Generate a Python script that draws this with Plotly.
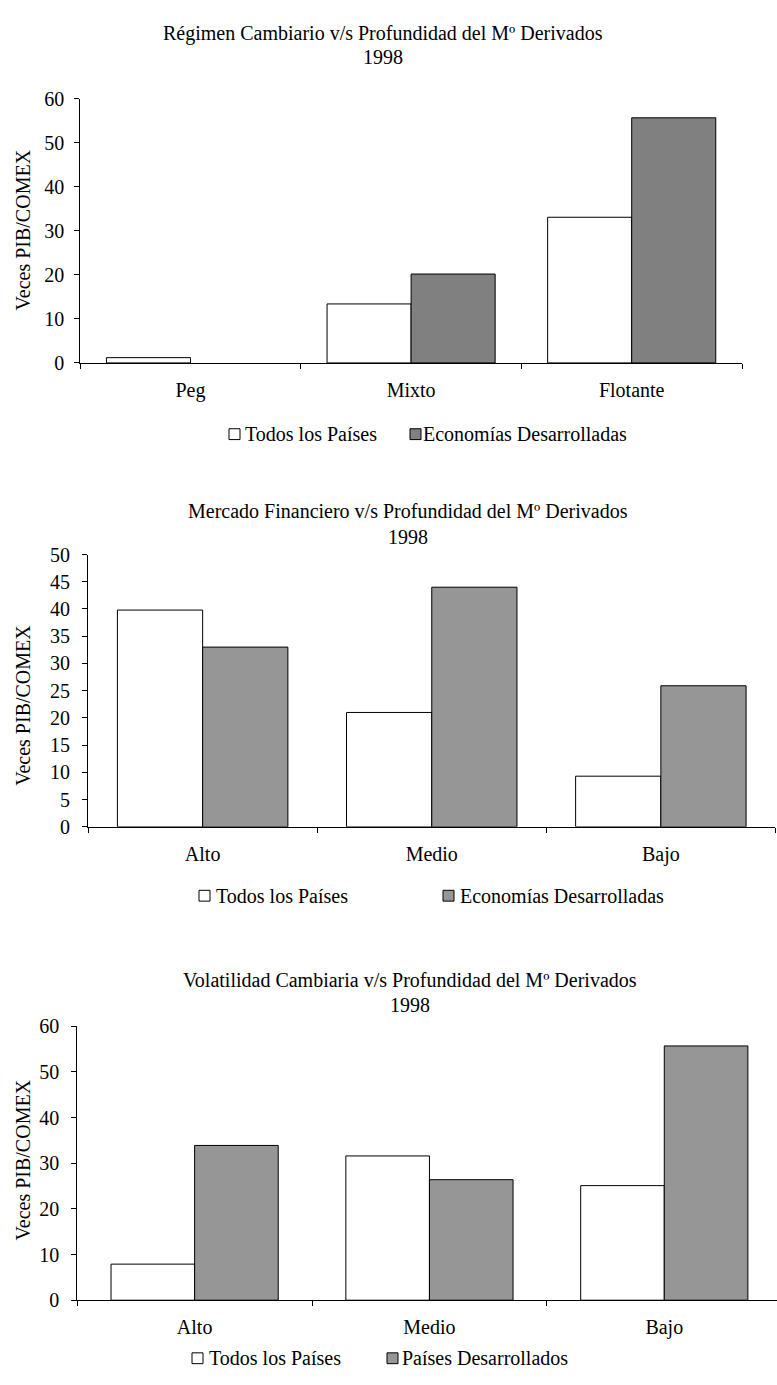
import plotly.graph_objects as go

W, H = 777, 1385
FONT = "Liberation Serif, Times New Roman, serif"

# ---------------- data ----------------
cats1 = ["Peg", "Mixto", "Flotante"]
todos1 = [1.2, 13.4, 33.1]
desarr1 = [None, 20.2, 55.7]

cats2 = ["Alto", "Medio", "Bajo"]
todos2 = [39.8, 21.0, 9.3]
desarr2 = [33.0, 44.0, 25.9]

cats3 = ["Alto", "Medio", "Bajo"]
todos3 = [7.9, 31.6, 25.1]
desarr3 = [33.9, 26.4, 55.7]

titles = [
    "Régimen Cambiario v/s Profundidad del Mº Derivados",
    "Mercado Financiero v/s Profundidad del Mº Derivados",
    "Volatilidad Cambiaria v/s Profundidad del Mº Derivados",
]
year = "1998"
ytitle = "Veces PIB/COMEX"
legend_names = [
    ("Todos los Países", "Economías Desarrolladas"),
    ("Todos los Países", "Economías Desarrolladas"),
    ("Todos los Países", "Países Desarrollados"),
]
# ---------------------------------------


def px_x(v):
    return v / W


def px_y(v):
    return 1 - v / H


GRAY1 = "#808080"
GRAY2 = "#969696"

# panel geometry in pixels: (left, right, top, bottom)
panels = [
    dict(l=80.2, r=742.0, t=89.3, b=357.6, yr=[0, 60], dt=10, xr=[-0.5, 2.5], bw=0.381,
         gray=GRAY1, tx=383, ty=(22.7, 46.7), yt=223, lg=430, ys=6,
         leg=((229, 245), (410, 423))),
    dict(l=88.1, r=775.4, t=552.3, b=829.0, yr=[0, 50], dt=5, xr=[-0.5, 2.5], bw=0.372,
         gray=GRAY2, tx=408, ty=(508.3, 534.0), yt=706, lg=899, ys=8,
         leg=((199, 216), (443, 460))),
    dict(l=77.2, r=777.0, t=1031.7, b=1310.0, yr=[0, 60], dt=10, xr=[-0.5, 2.48], bw=0.356,
         gray=GRAY2, tx=410, ty=(985.0, 1010.0), yt=1168, lg=1369, ys=8,
         leg=((192, 209), (387, 402))),
]
datasets = [(cats1, todos1, desarr1), (cats2, todos2, desarr2), (cats3, todos3, desarr3)]

fig = go.Figure()
layout = dict(
    width=W, height=H, margin=dict(l=0, r=0, t=0, b=0),
    paper_bgcolor="white", plot_bgcolor="white",
    showlegend=False, barmode="overlay",
    font=dict(family=FONT, size=20, color="black"),
)
annotations = []
shapes = []

for i, (p, (cats, a, b)) in enumerate(zip(panels, datasets)):
    n = "" if i == 0 else str(i + 1)
    xa, ya = "x" + n, "y" + n
    w = p["bw"]
    fig.add_trace(go.Bar(x=cats, y=a, xaxis=xa, yaxis=ya, width=w, offset=-w,
                         marker=dict(color="white", line=dict(color="black", width=1)),
                         name=legend_names[i][0]))
    fig.add_trace(go.Bar(x=cats, y=b, xaxis=xa, yaxis=ya, width=w, offset=0,
                         marker=dict(color=p["gray"], line=dict(color="black", width=1)),
                         name=legend_names[i][1]))
    layout["xaxis" + n] = dict(
        domain=[px_x(p["l"]), px_x(p["r"])], anchor=ya, type="category",
        range=p["xr"], tickson="boundaries", ticks="outside", ticklen=5,
        tickcolor="black", showline=True, linecolor="black", linewidth=1,
        showgrid=False, zeroline=False, ticklabelstandoff=9,
        tickfont=dict(family=FONT, size=20),
    )
    layout["yaxis" + n] = dict(
        domain=[px_y(p["b"]), px_y(p["t"])], anchor=xa, range=p["yr"], dtick=p["dt"],
        ticks="outside", ticklen=5, tickcolor="black", showline=True,
        linecolor="black", linewidth=1, showgrid=False, zeroline=False,
        ticklabelstandoff=p["ys"],
        tickfont=dict(family=FONT, size=20),
    )
    # titles
    annotations.append(dict(text=titles[i], x=px_x(p["tx"]), y=px_y(p["ty"][0]),
                            xref="paper", yref="paper", xanchor="center", yanchor="middle",
                            showarrow=False, font=dict(family=FONT, size=20)))
    annotations.append(dict(text=year, x=px_x(p["tx"]), y=px_y(p["ty"][1]),
                            xref="paper", yref="paper", xanchor="center", yanchor="middle",
                            showarrow=False, font=dict(family=FONT, size=20)))
    annotations.append(dict(text=ytitle, x=px_x(23), y=px_y(p["yt"]), textangle=-90,
                            xref="paper", yref="paper", xanchor="center", yanchor="middle",
                            showarrow=False, font=dict(family=FONT, size=20)))
    # legend
    for (sq, tx), fill, name in zip(p["leg"], ["white", p["gray"]], legend_names[i]):
        s = 11
        cy = p["lg"]
        shapes.append(dict(type="rect", xref="paper", yref="paper",
                           x0=px_x(sq), x1=px_x(sq + s),
                           y0=px_y(cy - s / 2), y1=px_y(cy + s / 2),
                           fillcolor=fill, line=dict(color="black", width=1)))
        annotations.append(dict(text=name, x=px_x(tx - 2), y=px_y(cy),
                                xref="paper", yref="paper", xanchor="left", yanchor="middle",
                                showarrow=False, font=dict(family=FONT, size=20)))

layout["annotations"] = annotations
layout["shapes"] = shapes
fig.update_layout(**layout)
fig.write_html("out.html")
